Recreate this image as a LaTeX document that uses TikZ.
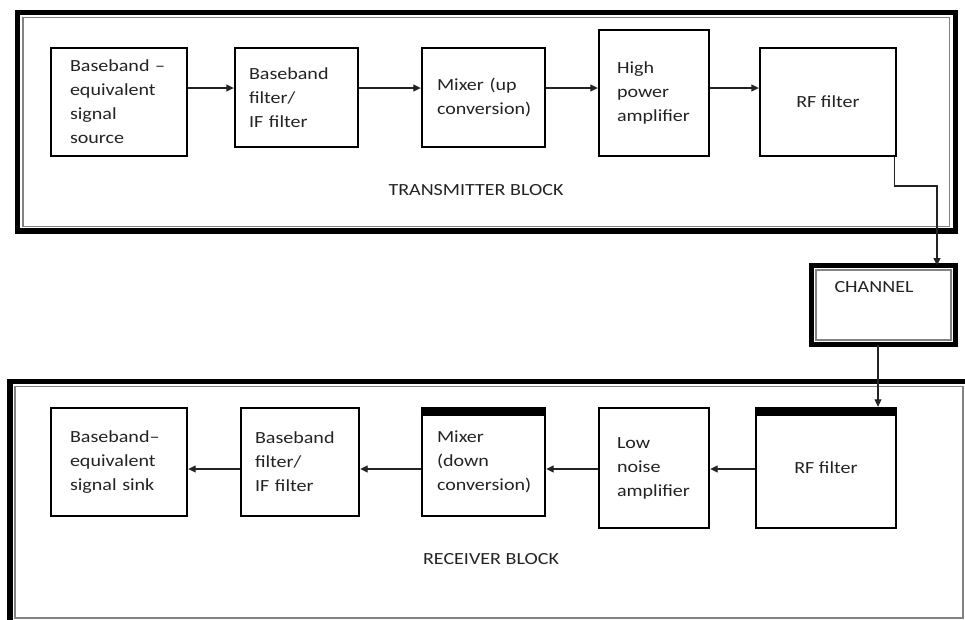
\documentclass[tikz,border=0pt]{standalone}
\usepackage{fontspec}
\setmainfont{Carlito}[FakeStretch=1.18]
\usetikzlibrary{arrows.meta, positioning, calc}
\definecolor{framegray}{RGB}{130,130,130}
\definecolor{inkgray}{RGB}{35,35,35}
\newcommand{\blkfont}{\fontsize{17}{24}\selectfont\hyphenpenalty=10000 }

\begin{document}
\begin{tikzpicture}[x=1pt, y=-1pt,
  blk/.style={draw, line width=2.4pt, inner sep=0pt, align=left, font=\blkfont, text=inkgray},
  frame/.style={draw, line width=5.5pt, inner sep=0pt, outer sep=0pt},
  inframe/.style={draw=framegray, line width=1.6pt},
  lbl/.style={font=\blkfont, text=inkgray},
  arr/.style={-{Triangle[length=7.5pt,width=7pt]}, line width=1.1pt, draw=inkgray}]
  \useasboundingbox (0,0) rectangle (965,619);
  \clip (0,0) rectangle (965,619);

  % Transmitter block
  \node[frame, minimum width=938pt, minimum height=218.5pt] (txblock) at (486.5,121.75) {};
  \draw[inframe] ([shift={(5.5pt,-5pt)}]txblock.north west) rectangle ([shift={(-6pt,4.5pt)}]txblock.south east);
  \node[lbl] (txlabel) at (476,190) {TRANSMITTER BLOCK};

  \node[blk, minimum width=136pt, minimum height=108pt, text width=98pt] (src) at (119,102) {Baseband~--\\equivalent\\signal\\source};
  \node[blk, minimum width=123pt, minimum height=99pt, text width=95pt] (txfilt) at (296.5,97.5) {Baseband\\filter/\\IF~filter};
  \node[blk, minimum width=123pt, minimum height=99pt, text width=93pt] (upmix) at (483.5,97.5) {Mixer~(up\\conversion)};
  \node[blk, minimum width=110pt, minimum height=126pt, text width=74pt] (hpa) at (654,93) {High\\power\\amplifier};
  \node[blk, minimum width=136pt, minimum height=108pt, align=center] (txrf) at (828,102) {RF~filter};

  \coordinate (txrow) at (0,88);
  \draw[arr] (src.east |- txrow) -- (txfilt.west |- txrow);
  \draw[arr] (txfilt.east |- txrow) -- (upmix.west |- txrow);
  \draw[arr] (upmix.east |- txrow) -- (hpa.west |- txrow);
  \draw[arr] (hpa.east |- txrow) -- (txrf.west |- txrow);

  % Channel
  \node[frame, minimum width=144pt, minimum height=79pt] (chan) at (883.5,305) {};
  \draw[inframe] ([shift={(4.5pt,-4.5pt)}]chan.north west) rectangle ([shift={(-4.5pt,4.5pt)}]chan.south east);
  \node[lbl, anchor=west] (chanlabel) at ([shift={(19.5pt,-21.5pt)}]chan.north west) {CHANNEL};

  \coordinate (tap) at (937,186);
  \draw[arr] ([xshift=-3pt]txrf.south east) |- (tap) -- (tap |- chan.north);

  % Receiver block
  \node[frame, minimum width=958pt, minimum height=241.5pt] (rxblock) at (489,502.25) {};
  \draw[inframe] ([shift={(5pt,-5pt)}]rxblock.north west) rectangle ([shift={(-5pt,5pt)}]rxblock.south east);
  \node[lbl] (rxlabel) at (491,559) {RECEIVER BLOCK};

  \node[blk, minimum width=136pt, minimum height=108pt, text width=98pt] (sink) at (119,462) {Baseband--\\equivalent\\signal~sink};
  \node[blk, minimum width=118pt, minimum height=108pt, text width=90pt] (rxfilt) at (300,462) {Baseband\\filter/\\IF~filter};
  \node[blk, minimum width=123pt, minimum height=108pt, text width=93pt] (downmix) at (483.5,462) {Mixer\\(down\\conversion)};
  \node[blk, minimum width=110pt, minimum height=120pt, text width=74pt] (lna) at (654,468) {Low\\noise\\amplifier};
  \node[blk, minimum width=140pt, minimum height=120pt, align=center] (rxrf) at (826,468) {RF~filter};
  \fill (downmix.north west) rectangle ([yshift=-9pt]downmix.north east);
  \fill (rxrf.north west) rectangle ([yshift=-9pt]rxrf.north east);

  \coordinate (rxrow) at (0,469);
  \draw[arr] (rxrf.west |- rxrow) -- (lna.east |- rxrow);
  \draw[arr] (lna.west |- rxrow) -- (downmix.east |- rxrow);
  \draw[arr] (downmix.west |- rxrow) -- (rxfilt.east |- rxrow);
  \draw[arr] (rxfilt.west |- rxrow) -- (sink.east |- rxrow);

  \coordinate (cdrop) at ([xshift=-5.5pt]chan.south);
  \draw[arr] (cdrop) -- (cdrop |- rxrf.north);
\end{tikzpicture}
\end{document}
